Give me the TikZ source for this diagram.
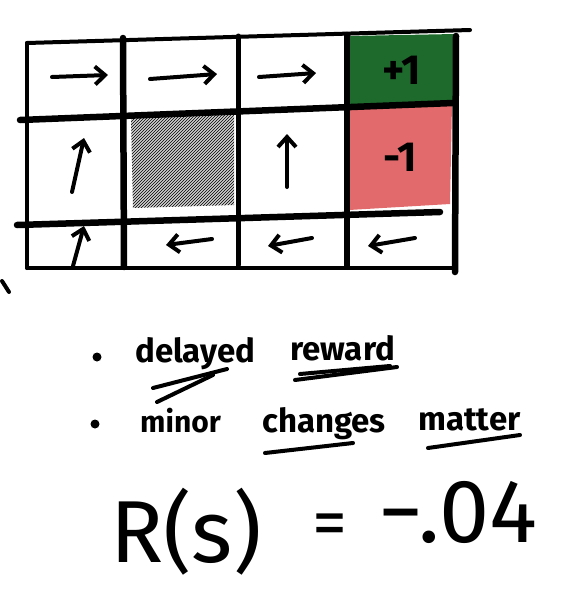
\documentclass[tikz,border=0pt]{standalone}
\usepackage{fontspec}
\setmainfont{Fira Sans}
\usetikzlibrary{arrows.meta, patterns, positioning}
\definecolor{wgreen}{HTML}{1E6A2C}
\definecolor{wred}{HTML}{E26A6C}
\definecolor{wgray}{HTML}{A8A8A8}
\tikzset{
  wall/.style={line width=6.5pt, line cap=round},
  rim/.style={line width=4pt, line cap=round},
  move/.style={-{Straight Barb[length=10pt, width=18pt, line width=4pt]},
               line width=4pt, line cap=round},
  score/.style={font=\fontsize{42}{42}\selectfont\bfseries, inner sep=0pt},
  note/.style={font=\fontsize{33}{33}\selectfont\bfseries, anchor=base west, inner sep=0pt},
  dot/.style={circle, fill=black, inner sep=0pt, minimum size=9pt},
  uline/.style={line width=4pt, line cap=round},
}

\begin{document}
\begin{tikzpicture}[x=1pt, y=-1pt]
  \useasboundingbox (0,0) rectangle (572,595);

  %% Cell centres
  \foreach \n/\x/\y in {a1/75/74, a2/180/74, a3/293/72, a4/402/70,
                        b1/75/165, b2/180/163, b3/293/160, b4/400/157,
                        c1/75/246, c2/180/244, c3/293/242, c4/400/240}{
    \coordinate (\n) at (\x,\y);
  }

  %% Coloured cells
  \fill[wgreen] (349,36) -- (455,34) -- (455,103) -- (349,106) -- cycle;
  \fill[wred] (349,109) -- (452,104) -- (450,204) -- (349,210) -- cycle;
  \fill[wgray!55] (131,117) -- (234,114) -- (234,205) -- (133,208) -- cycle;
  \path[pattern=north east lines, pattern color=black]
    (131,117) -- (234,114) -- (234,205) -- (133,208) -- cycle;

  %% Grid
  \draw[rim] (27,43) -- (470,30);
  \draw[rim] (27,43) -- (27,268);
  \draw[rim] (27,268) -- (453,268);
  \draw[wall] (20,120) -- (453,103);
  \draw[wall] (17,225) -- (440,212);
  \draw[wall] (123,38) -- (124,267);
  \draw[rim, line width=5pt] (238,36) -- (238,265);
  \draw[wall] (347,35) -- (347,266);
  \draw[wall] (456,36) -- (455,272);

  %% Policy arrows
  \draw[move] (52,77) -- (108,75);
  \draw[move] (150,79) -- (217,74);
  \draw[move] (259,77) -- (316,73);
  \draw[move] (72,192) -- (84,138);
  \draw[move] (287,187) -- (287,134);
  \draw[move] (73,266) -- (84,226);
  \draw[move] (212,239) -- (166,245);
  \draw[move] (312,238) -- (268,246);
  \draw[move] (415,238) -- (368,246);

  %% Terminal rewards
  \node[score] (plus) at (a4) {+1};
  \node[score] (minus) at (b4) {-1};

  %% stray mark
  \draw[rim] (2,281) -- (9,292);

  %% Notes
  \node[dot] (d1) at (97,357) {};
  \node[note] (delayed) at (135,362) {delayed};
  \node[note] (reward) at (290,360) {reward};
  \draw[uline] (153,388) -- (227,369);
  \draw[uline] (157,402) -- (213,375);
  \draw[uline] (295,380) -- (397,367);
  \draw[uline] (300,374) -- (390,366);

  \node[dot] (d2) at (95,424) {};
  \node[note, font=\fontsize{30}{30}\selectfont\bfseries] (minor) at (140,432) {minor};
  \node[note] (changes) at (262,432) {changes};
  \node[note] (matter) at (418,430) {matter};
  \draw[uline] (265,453) -- (353,443);
  \draw[uline] (428,448) -- (520,435);

  %% Step reward
  \node[font=\fontsize{88}{88}\selectfont, anchor=base west, inner sep=0pt]
    (rs) at (110,562) {R(s)};
  \node[font=\fontsize{70}{70}\selectfont, inner sep=0pt] (eq) at (330,530) {=};
  \node[font=\fontsize{90}{90}\selectfont, anchor=base west, inner sep=0pt]
    (val) at (378,542) {−.04};
\end{tikzpicture}
\end{document}
